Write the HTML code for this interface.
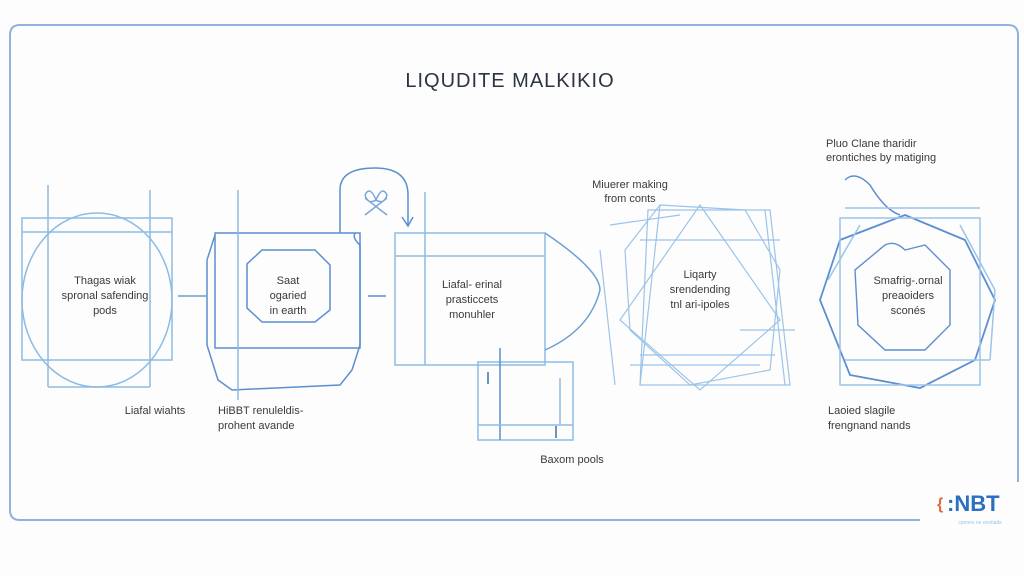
<!DOCTYPE html>
<html><head><meta charset="utf-8"><style>
html,body{margin:0;padding:0;background:#fdfdfd;}
svg{display:block}
text{font-family:"Liberation Sans",sans-serif;fill:#3a3a3a;}
</style></head><body>
<svg width="1024" height="576" viewBox="0 0 1024 576">
<rect width="1024" height="576" fill="#fdfdfd"/>
<!-- frame -->
<path d="M920 520 H20 Q10 520 10 510 V35 Q10 25 20 25 H1008 Q1018 25 1018 35 V482" fill="none" stroke="#8fb3dc" stroke-width="2"/>
<text x="510" y="87" font-size="20" text-anchor="middle" style="fill:#2b3344" letter-spacing="1">LIQUDITE MALKIKIO</text>

<g fill="none" stroke="#8dbbe4" stroke-width="1.5">
<!-- node1 -->
<rect x="22" y="218" width="150" height="142"/>
<line x1="22" y1="232" x2="172" y2="232"/>
<line x1="48" y1="185" x2="48" y2="387"/>
<line x1="150" y1="190" x2="150" y2="387"/>
<line x1="48" y1="387" x2="150" y2="387"/>
<ellipse cx="97" cy="300" rx="75" ry="87"/>
<line x1="178" y1="296" x2="206" y2="296" stroke="#6a9fd4"/>
<!-- node2 -->
<g stroke="#5b8fd0">
<rect x="215" y="233" width="145" height="115"/>
<path d="M215 235 L207 260 L207 345 L218 380 L232 390 L340 385 L352 370 L360 345 L360 245 Q352 238 355 233"/>
<path d="M262 250 H315 L330 265 V310 L315 322 H262 L247 308 V264 Z"/>
<line x1="368" y1="296" x2="386" y2="296"/>
<path d="M340 233 V190 Q340 168 375 168 Q408 168 408 195 V225"/>
<path d="M402 217 L408 226 L413 217"/>
</g>
<line x1="238" y1="190" x2="238" y2="400"/>
<path d="M365 195 Q370 185 376 200 Q382 185 387 195 Q384 205 376 200 Q368 205 365 195 M365 215 L387 198 M365 198 L387 215" stroke="#7aa6d8"/>
<!-- node3 -->
<rect x="395" y="233" width="150" height="132"/>
<line x1="395" y1="256" x2="545" y2="256"/>
<line x1="425" y1="192" x2="425" y2="365"/>
<path d="M545 233 Q600 270 600 290 Q590 330 545 350" stroke="#6a9fd4"/>
<rect x="478" y="362" width="95" height="78"/>
<line x1="500" y1="348" x2="500" y2="440" stroke="#5b8fd0"/>
<line x1="478" y1="425" x2="573" y2="425"/>
<line x1="560" y1="378" x2="560" y2="425"/>
<line x1="488" y1="372" x2="488" y2="384" stroke="#3a6fb0"/>
<line x1="556" y1="426" x2="556" y2="438" stroke="#3a6fb0"/>
<!-- node4 tangled -->
<g stroke="#9cc4e8" stroke-width="1.2">
<path d="M648 210 H770 L790 385 H640 Z"/>
<path d="M660 205 L745 210 L780 270 L770 370 L690 385 L630 330 L625 250 Z"/>
<path d="M640 240 H780 M640 355 H775 M630 365 H760"/>
<path d="M660 205 L640 385 M765 210 L785 385"/>
<path d="M700 205 L780 320 L700 390 L620 320 Z"/>
<path d="M610 225 L680 215 M600 250 L615 385 M740 330 L795 330"/>
</g>
<!-- node5 -->
<g stroke="#5b8fd0">
<path d="M905 215 L965 240 L995 300 L975 360 L920 388 L850 375 L820 300 L840 240 Z" stroke-width="1.8"/>
<path d="M885 245 Q895 240 905 250 L925 245 L950 270 L950 325 L925 350 L885 350 L858 325 L855 270 Z" stroke-width="1.4"/>
<path d="M845 180 Q855 170 870 185 Q885 210 900 215"/>
</g>
<g stroke="#9cc4e8">
<rect x="840" y="218" width="140" height="167"/>
<line x1="845" y1="208" x2="980" y2="208"/>
<line x1="845" y1="360" x2="990" y2="360"/>
<path d="M828 280 L860 225 M960 225 L995 290 L990 360"/>
</g>
</g>

<g font-size="11" text-anchor="middle">
<text x="105" y="284">Thagas wiak</text>
<text x="105" y="299">spronal safending</text>
<text x="105" y="314">pods</text>
<text x="288" y="284">Saat</text>
<text x="288" y="299">ogaried</text>
<text x="288" y="314">in earth</text>
<text x="472" y="288">Liafal- erinal</text>
<text x="472" y="303">prasticcets</text>
<text x="472" y="318">monuhler</text>
<text x="700" y="278">Liqarty</text>
<text x="700" y="293">srendending</text>
<text x="700" y="308">tnl ari-ipoles</text>
<text x="908" y="284">Smafrig-.ornal</text>
<text x="908" y="299">preaoiders</text>
<text x="908" y="314">sconés</text>
<text x="630" y="188">Miuerer making</text>
<text x="630" y="202">from conts</text>
<text x="155" y="414">Liafal wiahts</text>
<text x="572" y="463">Baxom pools</text>
</g>
<g font-size="11">
<text x="218" y="414">HiBBT renuleldis-</text>
<text x="218" y="429">prohent avande</text>
<text x="826" y="147">Pluo Clane tharidir</text>
<text x="826" y="161">erontiches by matiging</text>
<text x="828" y="414">Laoied slagile</text>
<text x="828" y="429">frengnand nands</text>
</g>
<!-- logo -->
<text x="937" y="509" font-size="16" style="fill:#e06a3a" font-weight="bold">{</text>
<text x="947" y="511" font-size="22" font-weight="bold" style="fill:#2a6fc0">:NBT</text>
<text x="980" y="524" font-size="5" text-anchor="middle" style="fill:#9cc4e8">cpones ne enetiads</text>
</svg>
</body></html>
